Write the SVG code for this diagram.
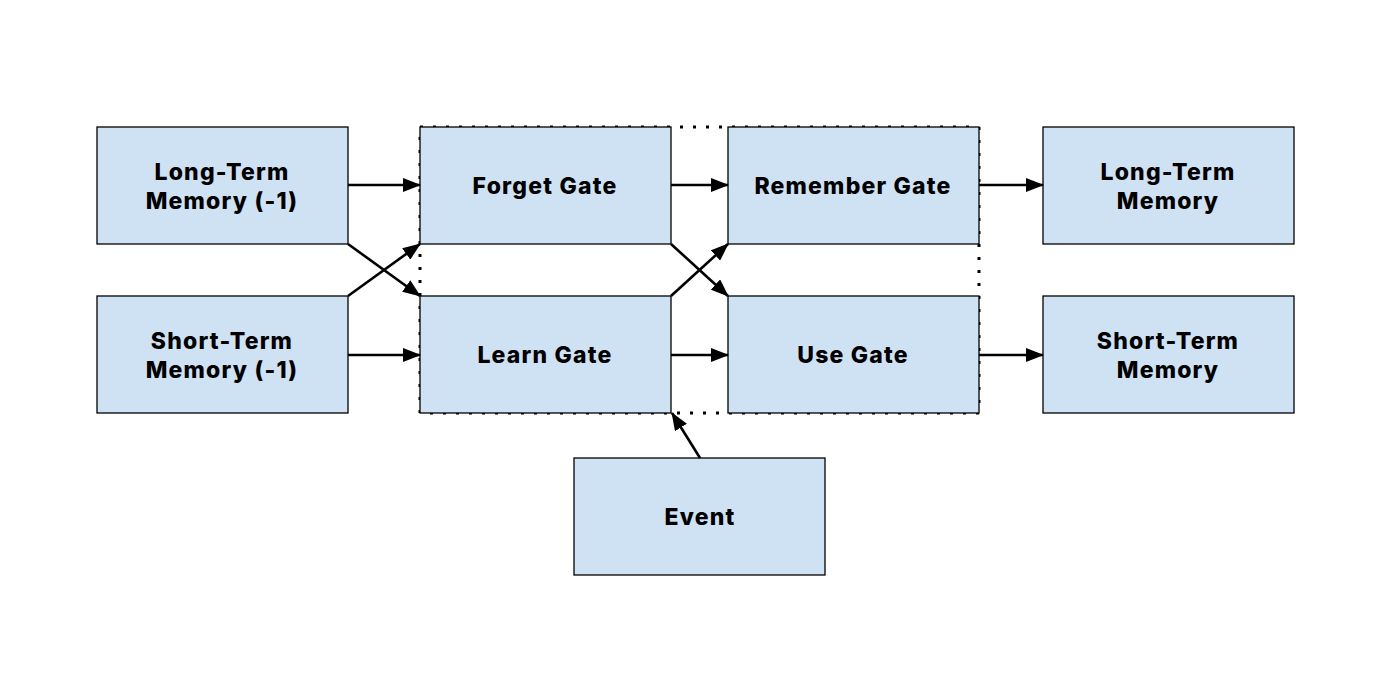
<svg xmlns="http://www.w3.org/2000/svg" width="1400" height="693" viewBox="0 0 1400 693">
<style>
.box{fill:#cfe2f3;stroke:#000;stroke-width:1.3}
.lbl{font-family:Inter,"Open Sans",sans-serif;font-weight:800;font-size:23px;letter-spacing:1.2px;fill:#000;text-anchor:middle}
.con{stroke:#000;stroke-width:2.6;fill:none;marker-end:url(#ah)}
.dot{fill:none;stroke:#000;stroke-width:3;stroke-dasharray:3,10}
</style>
<defs>
<marker id="ah" markerWidth="18" markerHeight="14" refX="17" refY="7" orient="auto" markerUnits="userSpaceOnUse" viewBox="0 0 18 14">
<path d="M0,0 L18,7 L0,14 Z" fill="#000"/>
</marker>
</defs>
<rect width="1400" height="693" fill="#fff"/>
<rect class="dot" x="420" y="127" width="559" height="286"/>
<g id="ltm1"><rect class="box" x="97" y="127" width="251" height="117"/><text class="lbl" x="222" y="180">Long-Term</text><text class="lbl" x="222" y="209">Memory (-1)</text></g>
<g id="stm1"><rect class="box" x="97" y="296" width="251" height="117"/><text class="lbl" x="222" y="349">Short-Term</text><text class="lbl" x="222" y="378">Memory (-1)</text></g>
<g id="forget"><rect class="box" x="420" y="127" width="251" height="117"/><text class="lbl" x="545" y="194">Forget Gate</text></g>
<g id="learn"><rect class="box" x="420" y="296" width="251" height="117"/><text class="lbl" x="545" y="363">Learn Gate</text></g>
<g id="remember"><rect class="box" x="728" y="127" width="251" height="117"/><text class="lbl" x="853" y="194">Remember Gate</text></g>
<g id="use"><rect class="box" x="728" y="296" width="251" height="117"/><text class="lbl" x="853" y="363">Use Gate</text></g>
<g id="ltm"><rect class="box" x="1043" y="127" width="251" height="117"/><text class="lbl" x="1168" y="180">Long-Term</text><text class="lbl" x="1168" y="209">Memory</text></g>
<g id="stm"><rect class="box" x="1043" y="296" width="251" height="117"/><text class="lbl" x="1168" y="349">Short-Term</text><text class="lbl" x="1168" y="378">Memory</text></g>
<g id="event"><rect class="box" x="574" y="458" width="251" height="117"/><text class="lbl" x="700" y="525">Event</text></g>
<g id="connectors">
<line class="con" x1="348" y1="185" x2="420" y2="185"/>
<line class="con" x1="348" y1="355" x2="420" y2="355"/>
<line class="con" x1="348" y1="244" x2="420" y2="296"/>
<line class="con" x1="348" y1="296" x2="420" y2="244"/>
<line class="con" x1="671" y1="185" x2="728" y2="185"/>
<line class="con" x1="671" y1="355" x2="728" y2="355"/>
<line class="con" x1="671" y1="244" x2="728" y2="296"/>
<line class="con" x1="671" y1="296" x2="728" y2="244"/>
<line class="con" x1="979" y1="185" x2="1043" y2="185"/>
<line class="con" x1="979" y1="355" x2="1043" y2="355"/>
<line class="con" x1="700" y1="458" x2="672" y2="413"/>
</g>
</svg>
